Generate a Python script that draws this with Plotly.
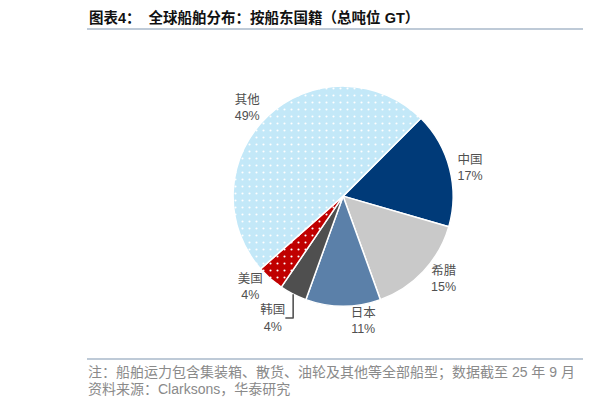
import plotly.graph_objects as go

# data (share of world fleet by owner nationality, GT)
countries = ['中国', '希腊', '日本', '韩国', '美国', '其他']
shares = [17, 15, 11, 4, 4, 49]
colors = ['#003A78', '#C9C9C9', '#5B80A9', '#4F4F4F', '#C00000', '#C3E8F8']
patterns = ['', '', '', '', '.', '.']

title = '图表4：  全球船舶分布：按船东国籍（总吨位 GT）'
note = '注：船舶运力包含集装箱、散货、油轮及其他等全部船型；数据截至 25 年 9 月'
source = '资料来源：Clarksons，华泰研究'

W, H = 616, 409
font_fam = 'Liberation Sans, Arial, Noto Sans CJK SC'


# page has an 8px body margin, so convert screen pixels to paper coords
def px(x):
    return (x - 8) / W


def py(y):
    return 1 - (y - 8) / H


fig = go.Figure(go.Pie(
    labels=countries, values=shares, sort=False, direction='clockwise',
    rotation=45,
    marker=dict(colors=colors, line=dict(color='white', width=1.5),
                pattern=dict(shape=patterns, fgcolor='white', bgcolor=colors,
                             size=7, solidity=0.07, fillmode='replace')),
    texttemplate='%{label}<br>%{percent:.0%}',
    textposition='outside',
    outsidetextfont=dict(family=font_fam, size=12.5, color='#505050'),
    hoverinfo='label+percent',
    domain=dict(x=[0.317, 0.771], y=[0.271, 0.809]),
    showlegend=False,
))

line_col = '#A9B8CA'
for y in (29, 359):
    fig.add_shape(type='line', xref='paper', yref='paper',
                  x0=px(87), x1=px(583), y0=py(y), y1=py(y),
                  line=dict(color=line_col, width=1.5))
    # edge of the next chart on the page
    fig.add_shape(type='line', xref='paper', yref='paper',
                  x0=px(611), x1=1, y0=py(y), y1=py(y),
                  line=dict(color=line_col, width=1.5))

fig.add_annotation(text='<b>' + title + '</b>', xref='paper', yref='paper',
                   x=px(87), y=py(17), xanchor='left', yanchor='middle',
                   showarrow=False, font=dict(family=font_fam, size=14.5, color='#111111'))
fig.add_annotation(text='<b>图</b>', xref='paper', yref='paper',
                   x=px(610), y=py(17), xanchor='left', yanchor='middle',
                   showarrow=False, font=dict(family=font_fam, size=14.5, color='#111111'))
fig.add_annotation(text=note, xref='paper', yref='paper',
                   x=px(86), y=py(372), xanchor='left', yanchor='middle',
                   showarrow=False, font=dict(family=font_fam, size=14, color='#8A8A8A'))
fig.add_annotation(text=source, xref='paper', yref='paper',
                   x=px(86), y=py(389), xanchor='left', yanchor='middle',
                   showarrow=False, font=dict(family=font_fam, size=14, color='#8A8A8A'))
fig.add_annotation(text='注<br>资', xref='paper', yref='paper',
                   x=px(610), y=py(380), xanchor='left', yanchor='middle',
                   showarrow=False, align='left',
                   font=dict(family=font_fam, size=14, color='#8A8A8A'))

fig.update_layout(width=W, height=H, margin=dict(l=0, r=0, t=0, b=0),
                  paper_bgcolor='white', plot_bgcolor='white',
                  font=dict(family=font_fam))

fig.write_html('out.html')
